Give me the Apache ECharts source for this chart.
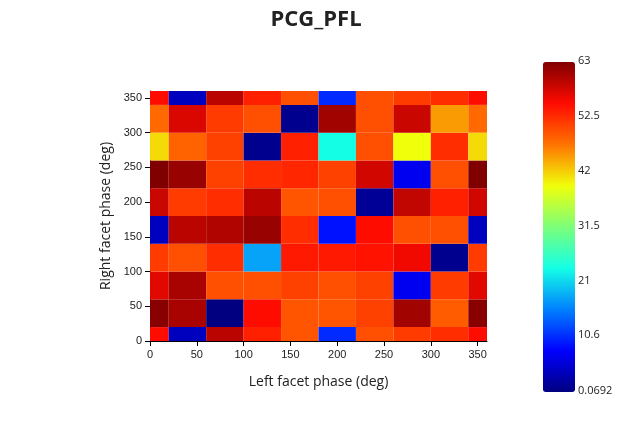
<!DOCTYPE html>
<html><head><meta charset="utf-8">
<script src="https://cdn.jsdelivr.net/npm/echarts@6/dist/echarts.min.js"></script>
<style>html,body{margin:0;padding:0;background:#fff}#c{width:638px;height:432px}</style>
</head><body><div id="c"></div>
<script>
const xCenters=[0,40,80,120,160,200,240,280,320,360];
const yCenters=[0,40,80,120,160,200,240,280,320,360];
// rows from y=0 upward
const row0=[55,4,59.5,53.5,49.5,10.5,50,51.5,52.5,55];
const row40=[62.5,60.5,0.0692,55,49.5,49.5,51,61,49,62.5];
const row80=[57,60.5,50,50,51,50,51,7,51.5,57];
const row120=[51.5,50,52.5,18,54,54,54.5,56,1,51.5];
const row160=[4,59.5,60,61.5,52.5,9,55,50,50,4];
const row200=[58.5,51.5,52.5,59.5,49.5,50,1.5,59,53.5,58];
const row240=[63,61.5,51,52.5,53,51,58,7,50,63];
const row280=[41.5,48.5,51,1,53.5,23.6,50,39.4,52.5,41.5];
const row320=[48,57.5,51.5,50,1,61,50,58.5,45,48];
const row360=[55,4,59.5,53.5,50,10.5,50,51.5,52.5,55];
const rows=[row0,row40,row80,row120,row160,row200,row240,row280,row320,row360];
const cbLabels=[63,52.5,42,31.5,21,10.6,0.0692];
const vmin=0.0692,vmax=63;
const data=[];
rows.forEach((r,j)=>r.forEach((v,i)=>data.push([xCenters[i],yCenters[j],v])));
const chart=echarts.init(document.getElementById('c'));
const cbTop=62,cbH=330,cbLeft=543,cbW=32;
const graphics=cbLabels.map(v=>({type:'text',z:100,left:cbLeft+cbW+3,top:cbTop+cbH-(v-vmin)/(vmax-vmin)*cbH-7,
  style:{text:String(v),font:'11px "Open Sans", sans-serif',fill:'#222'}}));
chart.setOption({
  animation:false,
  title:{text:'PCG_PFL',left:311,textAlign:'center',top:4,textStyle:{fontFamily:'"Open Sans", sans-serif',fontSize:22,fontWeight:'bold',color:'#222'}},
  grid:{left:150,top:91,width:337,height:250},
  xAxis:{type:'value',min:0,max:360,interval:50,name:'Left facet phase (deg)',nameLocation:'middle',nameGap:34,
    nameTextStyle:{fontFamily:'"Open Sans", sans-serif',fontSize:14,color:'#222'},
    axisLine:{lineStyle:{color:'#000'}},axisTick:{show:true,lineStyle:{color:'#000'}},splitLine:{show:false},
    axisLabel:{color:'#222',fontSize:11,showMaxLabel:false}},
  yAxis:{type:'value',min:0,max:360,interval:50,name:'Right facet phase (deg)',nameLocation:'middle',nameGap:30,
    nameTextStyle:{fontFamily:'"Open Sans", sans-serif',fontSize:14,color:'#222'},
    axisLine:{show:true,lineStyle:{color:'#000'}},axisTick:{show:true,lineStyle:{color:'#000'}},splitLine:{show:false},
    axisLabel:{color:'#222',fontSize:11,showMaxLabel:false}},
  visualMap:{type:'continuous',min:vmin,max:vmax,dimension:2,seriesIndex:0,calculable:false,padding:0,
    left:cbLeft,top:cbTop,itemWidth:cbW,itemHeight:cbH,text:null,showLabel:false,
    inRange:{color:['rgb(0,0,128)','rgb(0,0,255)','rgb(0,128,255)','rgb(20,255,230)','rgb(124,255,121)','rgb(240,255,10)','rgb(255,115,0)','rgb(255,10,0)','rgb(128,0,0)']}},
  graphic:graphics,
  series:[{type:'custom',data:data,encode:{x:0,y:1},clip:true,
    renderItem:function(params,api){
      const p0=api.coord([api.value(0)-20,api.value(1)+20]);
      const p1=api.coord([api.value(0)+20,api.value(1)-20]);
      const cs=params.coordSys;
      const rect=echarts.graphic.clipRectByRect({x:p0[0],y:p0[1],width:p1[0]-p0[0],height:p1[1]-p0[1]},
        {x:cs.x,y:cs.y,width:cs.width,height:cs.height});
      return rect&&{type:'rect',shape:rect,style:{fill:api.visual('color')}};
    }}]
});
</script></body></html>
